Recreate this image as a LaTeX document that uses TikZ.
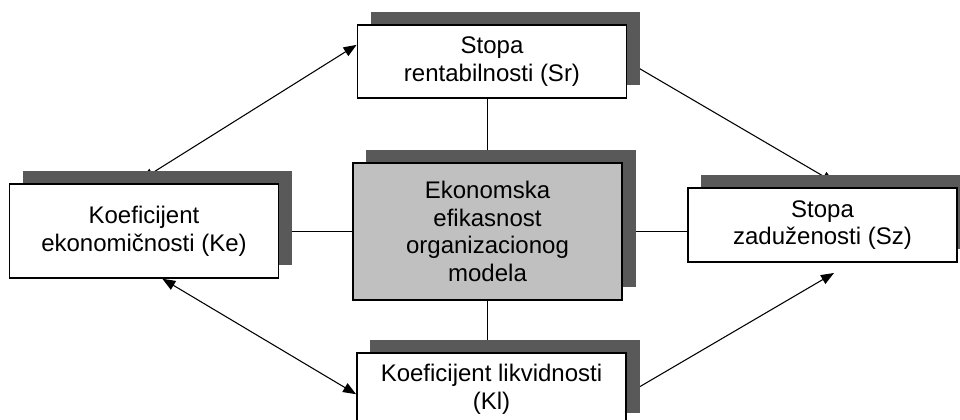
\documentclass[tikz,border=0pt]{standalone}
\usepackage{fontspec}
\setmainfont{Liberation Sans}
\usetikzlibrary{arrows.meta,shadows,backgrounds}
\definecolor{shadowgray}{RGB}{89,89,89}
\definecolor{modelgray}{RGB}{192,192,192}

\begin{document}
\begin{tikzpicture}[x=0.75pt, y=-0.75pt,
        box/.style={draw, line width=1.1pt, fill=white, align=center, inner sep=0pt,
            minimum width=202pt, font=\fontsize{18}{20.7}\selectfont,
            drop shadow={shadow xshift=10pt, shadow yshift=10pt, fill=shadowgray, opacity=1}},
        link/.style={line width=0.8pt},
        >={Triangle[length=9.75pt, width=7.5pt]}]
        \useasboundingbox (0,0) rectangle (960,420);

        % The central model and the four ratios around it
        \node[box, fill=modelgray, minimum height=102.75pt] (ctr) at (487.5,231.5)
            {Ekonomska\\efikasnost\\organizacionog\\modela};
        \node[box, minimum height=54.75pt] (sr) at (492,61.5) {Stopa\\rentabilnosti (Sr)};
        \node[box, minimum height=70.5pt] (ke) at (144,231) {Koeficijent\\ekonomičnosti (Ke)};
        \node[box, minimum height=55.5pt] (sz) at (822.5,225) {Stopa\\zaduženosti (Sz)};
        \node[box, minimum height=54.75pt] (kl) at (491.5,389.5) {Koeficijent likvidnosti\\(Kl)};

        % Free ends of the arrows that stop under the shadows
        \coordinate (keup) at (141,180);
        \coordinate (szup) at (835,183);
        \coordinate (szdown) at (834,273);

        \begin{scope}[on background layer]
            % Plain lines from the model to each ratio
            \draw[link] (ctr.north) -- (ctr.north |- sr.south);
            \draw[link] (ctr.south) -- (ctr.south |- kl.north);
            \draw[link] (ctr.west) -- (ctr.west -| ke.east);
            \draw[link] (ctr.east) -- (ctr.east -| sz.west);

            % Arrows between the ratios
            \draw[link, <->] (keup) -- (sr.173);
            \draw[link, ->] (sr.east) -- (szup);
            \draw[link, <->] (ke.-69) -- (kl.182);
            \draw[link, ->] (kl.-2) -- (szdown);
        \end{scope}

    \end{tikzpicture}
\end{document}
